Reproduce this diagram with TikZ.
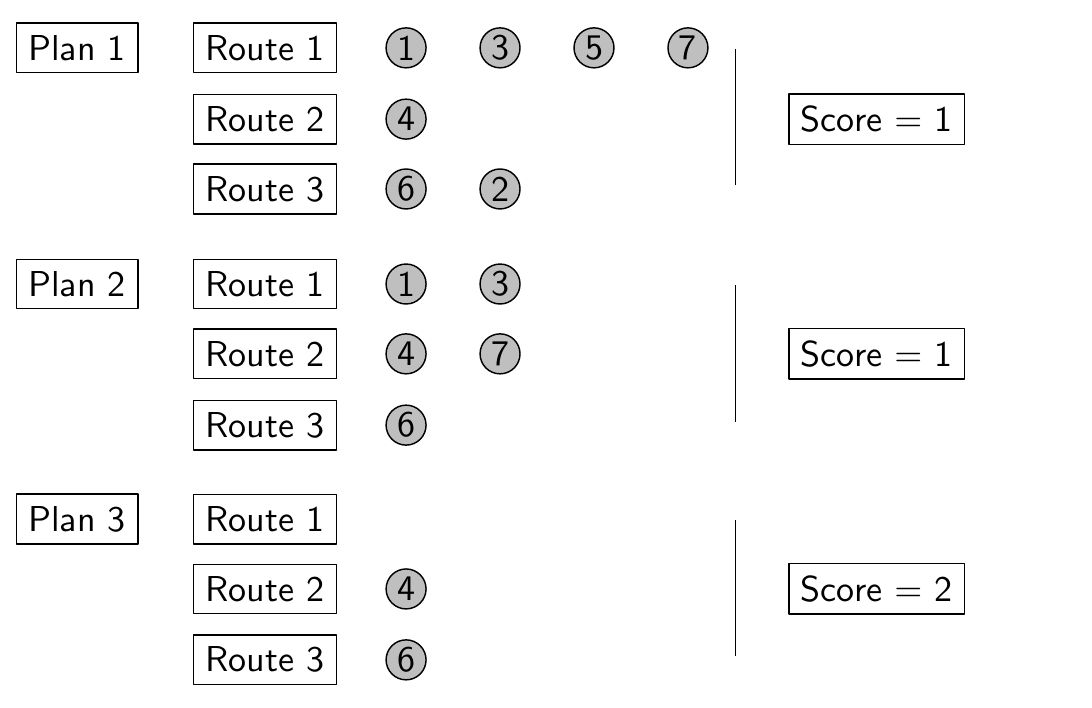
\documentclass[tikz,border=0pt]{standalone}
\usepackage{tikz}
\usetikzlibrary{shapes}
\usepackage{amsmath}
\usepackage{xcolor}
\renewcommand{\familydefault}{\sfdefault}

\begin{document}
\begin{tikzpicture}[line join=bevel,
    box/.style={draw,rectangle,font=\sffamily},
    stop/.style={draw,circle,fill=lightgray,inner sep=0pt,minimum size=11.1pt,font=\sffamily},]
    \useasboundingbox (0pt,0pt) rectangle (303.33pt,196.39pt);
    %% plan 1
    \node (p1) at (21.4pt,183.1pt) [box] {Plan 1};
      \node (p1r1) at (73.6pt,183.1pt) [box] {Route 1};
      \node (p1r2) at (73.6pt,163.3pt) [box] {Route 2};
      \node (p1r3) at (73.6pt,143.9pt) [box] {Route 3};
      \node (p1a) at (112.8pt,183.1pt) [stop] {1};
      \node (p1b) at (138.9pt,183.1pt) [stop] {3};
      \node (p1c) at (165.0pt,183.1pt) [stop] {5};
      \node (p1d) at (191.1pt,183.1pt) [stop] {7};
      \node (p1e) at (112.8pt,163.3pt) [stop] {4};
      \node (p1f) at (112.8pt,143.9pt) [stop] {6};
      \node (p1g) at (138.9pt,143.9pt) [stop] {2};
      \coordinate (p1top) at (204.3pt,182.8pt);
      \coordinate (p1bot) at (204.3pt,144.9pt);
      \draw (p1top) -- (p1bot);
      \node (s1) at (243.5pt,163.3pt) [box] {Score $=$ 1};
    %% plan 2
    \node (p2) at (21.4pt,117.5pt) [box] {Plan 2};
      \node (p2r1) at (73.6pt,117.5pt) [box] {Route 1};
      \node (p2r2) at (73.6pt,98.1pt) [box] {Route 2};
      \node (p2r3) at (73.6pt,78.3pt) [box] {Route 3};
      \node (p2a) at (112.8pt,117.5pt) [stop] {1};
      \node (p2b) at (138.9pt,117.5pt) [stop] {3};
      \node (p2c) at (112.8pt,98.1pt) [stop] {4};
      \node (p2d) at (138.9pt,98.1pt) [stop] {7};
      \node (p2e) at (112.8pt,78.3pt) [stop] {6};
      \coordinate (p2top) at (204.3pt,117.2pt);
      \coordinate (p2bot) at (204.3pt,79.3pt);
      \draw (p2top) -- (p2bot);
      \node (s2) at (243.5pt,98.1pt) [box] {Score $=$ 1};
    %% plan 3
    \node (p3) at (21.4pt,52.2pt) [box] {Plan 3};
      \node (p3r1) at (73.6pt,52.2pt) [box] {Route 1};
      \node (p3r2) at (73.6pt,32.8pt) [box] {Route 2};
      \node (p3r3) at (73.6pt,13.1pt) [box] {Route 3};
      \node (p3a) at (112.8pt,32.8pt) [stop] {4};
      \node (p3b) at (112.8pt,13.1pt) [stop] {6};
      \coordinate (p3top) at (204.3pt,51.9pt);
      \coordinate (p3bot) at (204.3pt,14.1pt);
      \draw (p3top) -- (p3bot);
      \node (s3) at (243.5pt,32.8pt) [box] {Score $=$ 2};
    %
    \end{tikzpicture}
\end{document}
